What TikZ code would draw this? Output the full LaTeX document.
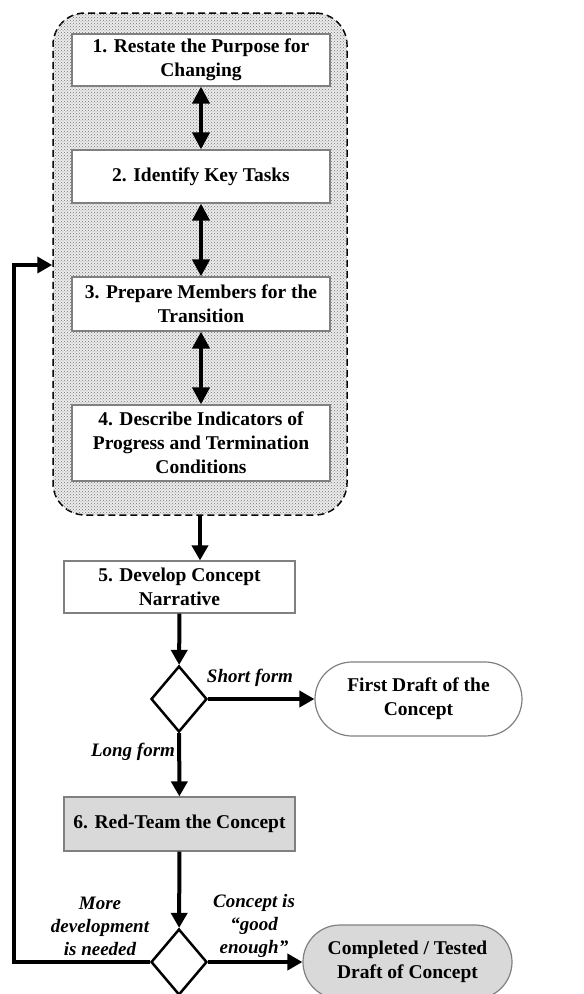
\documentclass[tikz,border=0pt]{standalone}
\usepackage{fontspec}
\setmainfont{Liberation Serif}
\usetikzlibrary{shapes.geometric,arrows.meta,patterns,positioning}

\tikzset{
    stepbox/.style={draw=gray, line width=1.2pt, fill=white, align=center,
        font=\fontsize{19.5}{24}\selectfont\bfseries, inner sep=0pt},
    endbox/.style={stepbox, rounded corners=37pt},
    choice/.style={diamond, draw, line width=2.5pt, fill=white, inner sep=0pt,
        minimum width=56pt, minimum height=66pt},
    flow/.style={line width=4pt, -{Triangle[length=15pt,width=16pt]}},
    twoway/.style={line width=4pt, {Triangle[length=17pt,width=17pt]}-{Triangle[length=17pt,width=17pt]}},
    branch/.style={font=\fontsize{19}{23}\selectfont\bfseries\itshape, align=center},
}

\begin{document}
\begin{tikzpicture}[x=1pt,y=-1pt]
            \useasboundingbox (0,0) rectangle (584,994);

            % grouped steps
            \node[draw, dash pattern=on 7pt off 4pt, line width=1.5pt, rounded corners=32pt,
                minimum width=294pt, minimum height=502pt, inner sep=0pt, fill=gray!15,
                postaction={pattern=crosshatch dots, pattern color=gray!90!black}] (group) at (200,264) {};

            \node[stepbox, minimum width=258pt, minimum height=52pt] (restate) at (201,60) {1. Restate the Purpose for\\Changing};
            \node[stepbox, minimum width=258pt, minimum height=53pt] (tasks) at (201,176.5) {2. Identify Key Tasks};
            \node[stepbox, minimum width=258pt, minimum height=54pt] (prepare) at (201,304) {3. Prepare Members for the\\Transition};
            \node[stepbox, minimum width=258pt, minimum height=76pt] (indicators) at (201,443) {4. Describe Indicators of\\Progress and Termination\\Conditions};

            \draw[twoway] (restate) -- (tasks);
            \draw[twoway] (tasks) -- (prepare);
            \draw[twoway] (prepare) -- (indicators);

            % concept development
            \node[stepbox, minimum width=231pt, minimum height=52pt] (narrative) at (179.5,587) {5. Develop Concept\\Narrative};
            \node[choice] (form) at (179,699) {};
            \node[endbox, minimum width=207pt, minimum height=74pt] (draft) at (418.5,699) {First Draft of the\\Concept};
            \node[stepbox, fill=gray!30, minimum width=231pt, minimum height=54pt] (redteam) at (179.5,824) {6. Red-Team the Concept};
            \node[choice] (good) at (179,962) {};
            \node[endbox, fill=gray!30, minimum width=209pt, minimum height=74pt] (done) at (407.5,962) {Completed / Tested\\Draft of Concept};
            \coordinate (loop) at (14,265);

            \draw[flow] (group.south -| 200,0) -- (narrative.north -| 200,0);
            \draw[flow] (narrative) -- (form);
            \draw[flow] (form) -- (draft);
            \draw[flow] (form) -- (redteam);
            \draw[flow] (redteam) -- (good);
            \draw[flow] (good) -- (done);
            \draw[flow] (good.west) -| (loop) -- (group.west |- loop);

            \node[branch] (short) at (250,678) {Short form};
            \node[branch] (long) at (133,752) {Long form};
            \node[branch] (more) at (100,926) {More\\development\\is needed};
            \node[branch] (enough) at (254,926) {Concept is\\``good\\enough''};

        \end{tikzpicture}
\end{document}
